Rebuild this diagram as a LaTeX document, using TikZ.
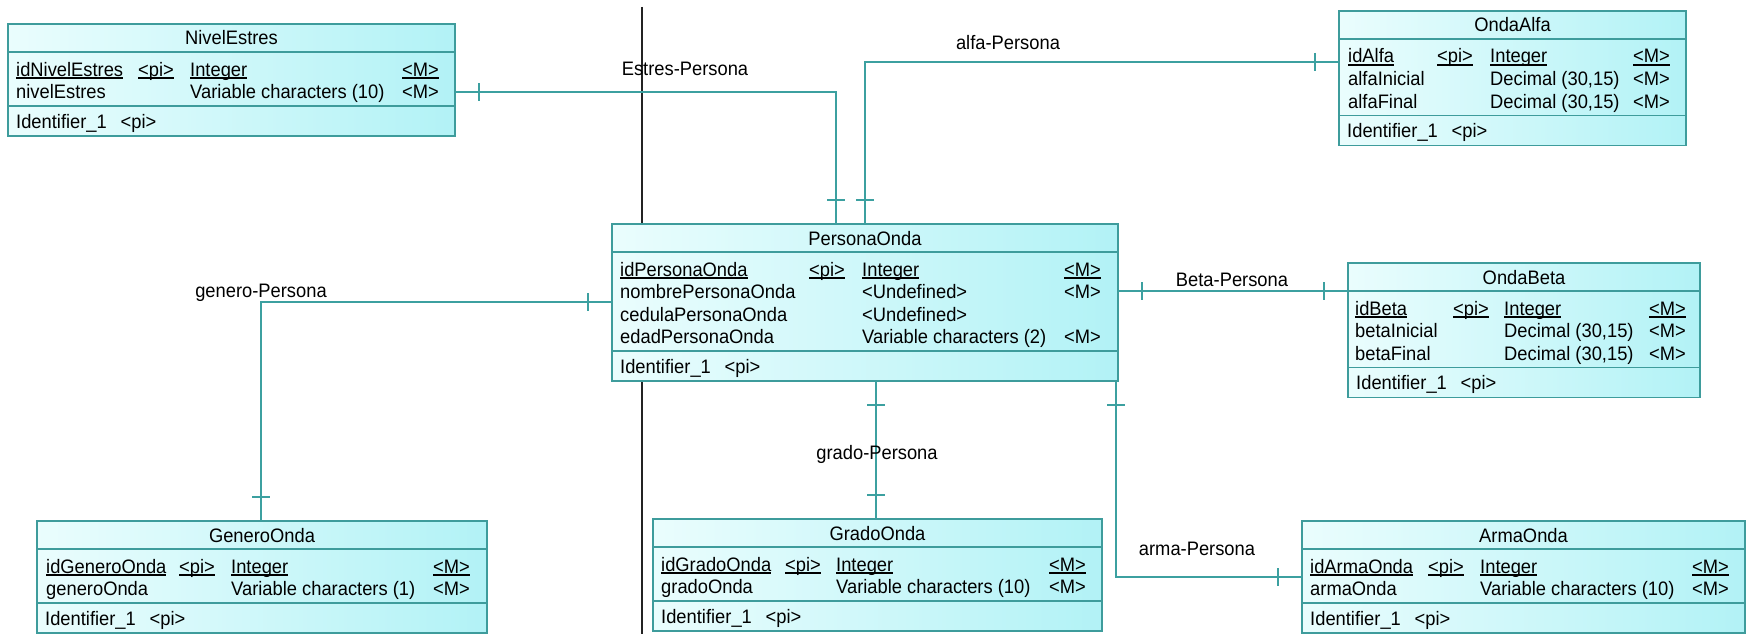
\documentclass[tikz,border=0pt]{standalone}
\usepackage{fontspec}
\setmainfont[FakeStretch=0.94]{Liberation Sans}
\usetikzlibrary{calc}

\definecolor{entline}{RGB}{62,156,156}
\definecolor{entL}{RGB}{234,253,253}
\definecolor{entR}{RGB}{178,242,246}
\definecolor{relline}{RGB}{60,160,160}
\definecolor{guide}{RGB}{35,35,35}

\tikzset{
  entbox/.style={draw=entline, line width=1.6pt, left color=entL, right color=entR,
    inner sep=0pt, outer sep=0pt, anchor=north west},
  sepline/.style={draw=entline, line width=1.3pt},
  txt/.style={inner sep=0pt, anchor=base west, font=\fontsize{19.5}{22}\selectfont},
  ttl/.style={inner sep=0pt, anchor=base, font=\fontsize{19.5}{22}\selectfont},
  rel/.style={draw=relline, line width=1.5pt},
  rellabel/.style={inner sep=0pt, anchor=base, font=\fontsize{19.5}{22}\selectfont},
}

% underline at a fixed depth, independent of descenders
\newcommand\undl[1]{\setbox0\hbox{#1}\rlap{\rule[-2.6pt]{\wd0}{1.2pt}}\box0}

% entity box: name, x, y, width, number of attributes, title
\newcommand\entity[6]{%
  \pgfmathsetmacro\entH{28+22.5*#5+9+30}
  \node[entbox, minimum width=#4pt, minimum height=\entH pt] (#1) at (#2,#3) {};
  \node[ttl] (#1-t) at ($(#1.north)+(0,21)$) {#6};
  \draw[sepline] ($(#1.north west)+(0,28)$) -- ($(#1.north east)+(0,28)$);
  \draw[sepline] ($(#1.south west)+(0,-30)$) -- ($(#1.south east)+(0,-30)$);
  \node[txt] (#1-ident) at ($(#1.south west)+(8,-8)$) {Identifier\_1};
  \node[txt] (#1-identpi) at ($(#1.south west)+(112.5,-8)$) {<pi>};
}
% column offsets: name, pi, type, mandatory
\newcommand\cols[4]{\def\cN{#1}\def\cP{#2}\def\cT{#3}\def\cM{#4}}
% primary key row
\newcommand\keyrow[3]{%
  \node[txt] (#1-n1) at ($(#1.north west)+(\cN,52)$) {\undl{#2}};
  \node[txt] (#1-p1) at ($(#1.north west)+(\cP,52)$) {\undl{<pi>}};
  \node[txt] (#1-y1) at ($(#1.north west)+(\cT,52)$) {\undl{#3}};
  \node[txt] (#1-m1) at ($(#1.north west)+(\cM,52)$) {\undl{<M>}};
}
% ordinary attribute row: entity, row index, name, type, mandatory mark
\newcommand\attrrow[5]{%
  \pgfmathsetmacro\rowy{52+22.5*(#2-1)}
  \node[txt] (#1-n#2) at ($(#1.north west)+(\cN,\rowy)$) {#3};
  \node[txt] (#1-y#2) at ($(#1.north west)+(\cT,\rowy)$) {#4};
  \if\relax\detokenize{#5}\relax\else
    \node[txt] (#1-m#2) at ($(#1.north west)+(\cM,\rowy)$) {#5};
  \fi
}
% cardinality ticks
\newcommand\tickv[1]{\draw[rel] ($(#1)+(0,-9)$) -- ($(#1)+(0,9)$);}
\newcommand\tickh[1]{\draw[rel] ($(#1)+(-9,0)$) -- ($(#1)+(9,0)$);}

\begin{document}
\begin{tikzpicture}[x=1pt, y=-1pt]
\useasboundingbox (0,0) rectangle (1747,634);
\fill[white] (0,0) rectangle (1747,634);

% vertical guide line behind the model
\coordinate (guideTop) at (642,7);
\coordinate (guideBot) at (642,634);
\draw[guide, line width=1.4pt] (guideTop) -- (guideBot);

% ---------------- entities ----------------
\entity{ne}{8}{24}{447}{2}{NivelEstres}
\cols{8}{130}{182}{394}
\keyrow{ne}{idNivelEstres}{Integer}
\attrrow{ne}{2}{nivelEstres}{Variable characters (10)}{<M>}

\entity{oa}{1339}{11}{347}{3}{OndaAlfa}
\cols{9}{98}{151}{294}
\keyrow{oa}{idAlfa}{Integer}
\attrrow{oa}{2}{alfaInicial}{Decimal (30,15)}{<M>}
\attrrow{oa}{3}{alfaFinal}{Decimal (30,15)}{<M>}

\entity{pe}{612}{224}{506}{4}{PersonaOnda}
\cols{8}{197}{250}{452}
\keyrow{pe}{idPersonaOnda}{Integer}
\attrrow{pe}{2}{nombrePersonaOnda}{<Undefined>}{<M>}
\attrrow{pe}{3}{cedulaPersonaOnda}{<Undefined>}{}
\attrrow{pe}{4}{edadPersonaOnda}{Variable characters (2)}{<M>}

\entity{ob}{1348}{263}{352}{3}{OndaBeta}
\cols{7}{105}{156}{301}
\keyrow{ob}{idBeta}{Integer}
\attrrow{ob}{2}{betaInicial}{Decimal (30,15)}{<M>}
\attrrow{ob}{3}{betaFinal}{Decimal (30,15)}{<M>}

\entity{go}{37}{521}{450}{2}{GeneroOnda}
\cols{9}{142}{194}{396}
\keyrow{go}{idGeneroOnda}{Integer}
\attrrow{go}{2}{generoOnda}{Variable characters (1)}{<M>}

\entity{gr}{653}{519}{449}{2}{GradoOnda}
\cols{8}{132}{183}{396}
\keyrow{gr}{idGradoOnda}{Integer}
\attrrow{gr}{2}{gradoOnda}{Variable characters (10)}{<M>}

\entity{ar}{1302}{521}{443}{2}{ArmaOnda}
\cols{8}{126}{178}{390}
\keyrow{ar}{idArmaOnda}{Integer}
\attrrow{ar}{2}{armaOnda}{Variable characters (10)}{<M>}

% ---------------- relationships ----------------
% Estres-Persona
\coordinate (estA) at ($(ne.north east)+(0,68)$);
\coordinate (estB) at ($(pe.north west)+(224,0)$);
\draw[rel] (estA) -| (estB);
\tickv{$(estA)+(24,0)$}
\tickh{$(estB)+(0,-24)$}
\node[rellabel] (lblEst) at (685,75) {Estres-Persona};

% alfa-Persona
\coordinate (alfA) at ($(pe.north west)+(253,0)$);
\coordinate (alfB) at ($(oa.north west)+(0,51)$);
\draw[rel] (alfA) |- (alfB);
\tickh{$(alfA)+(0,-24)$}
\tickv{$(alfB)+(-24,0)$}
\node[rellabel] (lblAlf) at (1008,50) {alfa-Persona};

% Beta-Persona
\coordinate (betA) at ($(pe.north east)+(0,67)$);
\coordinate (betB) at (ob.west |- betA);
\draw[rel] (betA) -- (betB);
\tickv{$(betA)+(24,0)$}
\tickv{$(betB)+(-24,0)$}
\node[rellabel] (lblBet) at (1232,286) {Beta-Persona};

% genero-Persona
\coordinate (genA) at ($(pe.north west)+(0,78)$);
\coordinate (genB) at ($(go.north west)+(224,0)$);
\draw[rel] (genA) -| (genB);
\tickv{$(genA)+(-24,0)$}
\tickh{$(genB)+(0,-24)$}
\node[rellabel] (lblGen) at (261,297) {genero-Persona};

% grado-Persona
\coordinate (graA) at ($(pe.south west)+(264,0)$);
\coordinate (graB) at (gr.north -| graA);
\draw[rel] (graA) -- (graB);
\tickh{$(graA)+(0,24)$}
\tickh{$(graB)+(0,-24)$}
\node[rellabel] (lblGra) at (877,459) {grado-Persona};

% arma-Persona
\coordinate (armA) at ($(pe.south east)+(-2,0)$);
\coordinate (armB) at ($(ar.north west)+(0,56)$);
\draw[rel] (armA) |- (armB);
\tickh{$(armA)+(0,24)$}
\tickv{$(armB)+(-24,0)$}
\node[rellabel] (lblArm) at (1197,555) {arma-Persona};
\end{tikzpicture}
\end{document}
